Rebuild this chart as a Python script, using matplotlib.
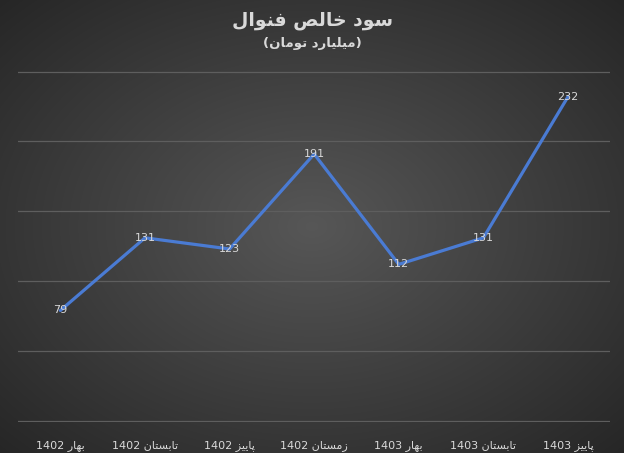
import matplotlib
matplotlib.use('Agg')
import matplotlib.pyplot as plt
import numpy as np

# chart data
title = 'سود خالص فنوال'
subtitle = '(میلیارد تومان)'
seasons = ['بهار 1402', 'تابستان 1402', 'پاییز 1402', 'زمستان 1402',
           'بهار 1403', 'تابستان 1403', 'پاییز 1403']
profit = [79, 131, 123, 191, 112, 131, 232]

# presentation forms: iso, final, initial, medial (None = right-joining only)
FORMS = {
    'ا': ('\uFE8D', '\uFE8E', None, None),
    'ب': ('\uFE8F', '\uFE90', '\uFE91', '\uFE92'),
    'پ': ('\uFB56', '\uFB57', '\uFB58', '\uFB59'),
    'ت': ('\uFE95', '\uFE96', '\uFE97', '\uFE98'),
    'خ': ('\uFEA5', '\uFEA6', '\uFEA7', '\uFEA8'),
    'د': ('\uFEA9', '\uFEAA', None, None),
    'ر': ('\uFEAD', '\uFEAE', None, None),
    'ز': ('\uFEAF', '\uFEB0', None, None),
    'س': ('\uFEB1', '\uFEB2', '\uFEB3', '\uFEB4'),
    'ص': ('\uFEB9', '\uFEBA', '\uFEBB', '\uFEBC'),
    'ف': ('\uFED1', '\uFED2', '\uFED3', '\uFED4'),
    'ل': ('\uFEDD', '\uFEDE', '\uFEDF', '\uFEE0'),
    'م': ('\uFEE1', '\uFEE2', '\uFEE3', '\uFEE4'),
    'ن': ('\uFEE5', '\uFEE6', '\uFEE7', '\uFEE8'),
    'ه': ('\uFEE9', '\uFEEA', '\uFEEB', '\uFEEC'),
    'و': ('\uFEED', '\uFEEE', None, None),
    'ی': ('\uFBFC', '\uFBFD', '\uFBFE', '\uFBFF'),
}


def shape(text):
    # join letters, then lay out right to left, keep digit runs left to right
    out = []
    for i, ch in enumerate(text):
        if ch not in FORMS:
            out.append(ch)
            continue
        prev = text[i - 1] if i > 0 else ''
        nxt = text[i + 1] if i + 1 < len(text) else ''
        join_prev = prev in FORMS and FORMS[prev][2] is not None
        join_next = FORMS[ch][2] is not None and nxt in FORMS
        iso, fin, ini, med = FORMS[ch]
        if join_prev and join_next:
            out.append(med)
        elif join_prev:
            out.append(fin)
        elif join_next:
            out.append(ini)
        else:
            out.append(iso)
    s = ''.join(out)[::-1]
    s = s.translate(str.maketrans('()', ')('))
    res, run = '', ''
    for ch in s:
        if ch.isdigit():
            run += ch
        else:
            res += run[::-1] + ch
            run = ''
    return res + run[::-1]


fig = plt.figure(figsize=(6.24, 4.53), dpi=100)

# radial gradient background
bg = fig.add_axes([0, 0, 1, 1], zorder=0)
yy, xx = np.mgrid[-1:1:453j, -1:1:624j]
r = np.sqrt(xx ** 2 + yy ** 2) / np.sqrt(2)
val = 0.34 - 0.19 * r
img = np.dstack([val, val, val])
bg.imshow(img, aspect='auto', extent=[0, 1, 0, 1])
bg.axis('off')

ax = fig.add_axes([0.029, 0.068, 0.949, 0.777], zorder=1)
ax.set_facecolor('none')
x = np.arange(len(seasons))
ax.plot(x, profit, color='#4a7bd3', lw=2.3, solid_capstyle='round', zorder=3)
for xi, v in zip(x, profit):
    ax.text(xi, v, str(v), ha='center', va='center', color='#d9d9d9',
            fontsize=8, zorder=4)

ax.set_xlim(-0.5, len(seasons) - 0.5)
ax.set_ylim(-1, 251)
ax.set_yticks(np.arange(0, 251, 50))
ax.yaxis.grid(True, color='#5e5e5e', lw=0.9)
ax.set_axisbelow(True)
ax.tick_params(axis='y', left=False, labelleft=False)
ax.tick_params(axis='x', bottom=False, colors='#d9d9d9', labelsize=8, pad=9)
ax.set_xticks(x)
ax.set_xticklabels([shape(s) for s in seasons])
for sp in ax.spines.values():
    sp.set_visible(False)

fig.text(0.5, 0.955, shape(title), ha='center', va='center', color='#d9d9d9',
         fontsize=13.5, fontweight='bold')
fig.text(0.5, 0.903, shape(subtitle), ha='center', va='center',
         color='#d9d9d9', fontsize=9.5, fontweight='bold')

fig.savefig('out.png', dpi=100)
